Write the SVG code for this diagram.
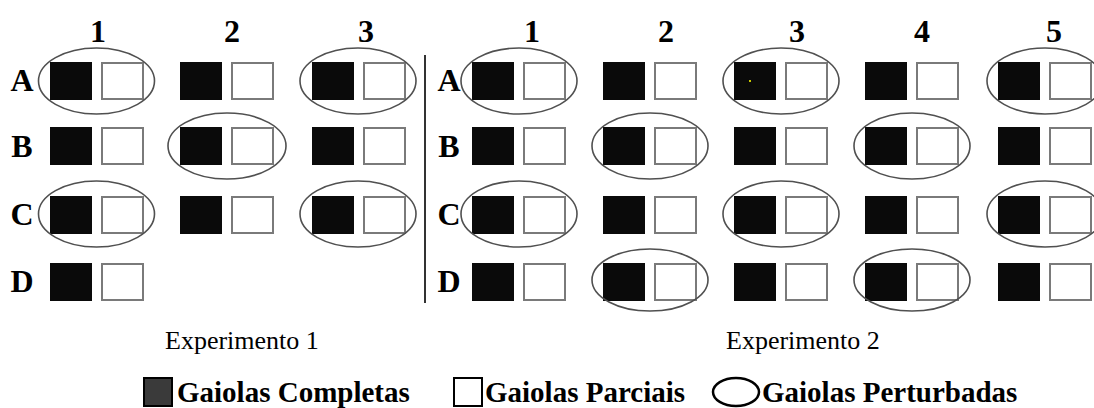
<svg xmlns="http://www.w3.org/2000/svg" width="1094" height="408" viewBox="0 0 1094 408">
<style>
.lbl{font-family:"Liberation Serif","Times New Roman",serif;font-weight:bold;font-size:32px;fill:#000;text-anchor:middle}
.cap{font-family:"Liberation Serif","Times New Roman",serif;font-size:26px;fill:#000}
.leg{font-family:"Liberation Serif","Times New Roman",serif;font-weight:bold;font-size:29px;fill:#000}
.b{fill:#0a0a0a}
.w{fill:#fff;stroke:#7a7a7a;stroke-width:2}
.e{fill:none;stroke:#505050;stroke-width:1.6}
</style>
<defs>
<g id="pair">
<rect class="b" x="0" y="0" width="42" height="38"/>
<rect class="w" x="52" y="1" width="41" height="36"/>
</g>
</defs>
<rect width="1094" height="408" fill="#fff"/>

<g id="headers">
<text class="lbl" x="98" y="42">1</text>
<text class="lbl" x="232" y="42">2</text>
<text class="lbl" x="366" y="42">3</text>
<text class="lbl" x="532" y="42">1</text>
<text class="lbl" x="666" y="42">2</text>
<text class="lbl" x="797" y="42">3</text>
<text class="lbl" x="922" y="42">4</text>
<text class="lbl" x="1054" y="42">5</text>
<text class="lbl" x="22" y="91">A</text>
<text class="lbl" x="22" y="157">B</text>
<text class="lbl" x="22" y="225">C</text>
<text class="lbl" x="22" y="292">D</text>
<text class="lbl" x="449" y="91">A</text>
<text class="lbl" x="449" y="157">B</text>
<text class="lbl" x="449" y="225">C</text>
<text class="lbl" x="449" y="292">D</text>
</g>

<g id="exp1">
<use href="#pair" x="50" y="62"/><use href="#pair" x="180" y="62"/><use href="#pair" x="312" y="62"/>
<use href="#pair" x="50" y="127"/><use href="#pair" x="180" y="127"/><use href="#pair" x="312" y="127"/>
<use href="#pair" x="50" y="196"/><use href="#pair" x="180" y="196"/><use href="#pair" x="312" y="196"/>
<use href="#pair" x="50" y="263"/>
<ellipse class="e" cx="96.5" cy="81" rx="58" ry="33"/>
<ellipse class="e" cx="358" cy="81" rx="58" ry="33"/>
<ellipse class="e" cx="227" cy="146" rx="59" ry="33"/>
<ellipse class="e" cx="96.5" cy="214" rx="58" ry="33"/>
<ellipse class="e" cx="358" cy="214" rx="58" ry="33"/>
</g>

<g id="separator">
<line x1="425" y1="55" x2="425" y2="303" stroke="#333" stroke-width="2"/>
</g>

<g id="exp2">
<use href="#pair" x="472" y="62"/><use href="#pair" x="603" y="62"/><use href="#pair" x="734" y="62"/><use href="#pair" x="865" y="62"/><use href="#pair" x="998" y="62"/>
<use href="#pair" x="472" y="127"/><use href="#pair" x="603" y="127"/><use href="#pair" x="734" y="127"/><use href="#pair" x="865" y="127"/><use href="#pair" x="998" y="127"/>
<use href="#pair" x="472" y="196"/><use href="#pair" x="603" y="196"/><use href="#pair" x="734" y="196"/><use href="#pair" x="865" y="196"/><use href="#pair" x="998" y="196"/>
<use href="#pair" x="472" y="263"/><use href="#pair" x="603" y="263"/><use href="#pair" x="734" y="263"/><use href="#pair" x="865" y="263"/><use href="#pair" x="998" y="263"/>
<rect x="749" y="80" width="2" height="2" fill="#c8c800"/>
<ellipse class="e" cx="519" cy="81" rx="58" ry="33"/>
<ellipse class="e" cx="781" cy="81" rx="58" ry="33"/>
<ellipse class="e" cx="1045" cy="81" rx="58" ry="33"/>
<ellipse class="e" cx="650" cy="146" rx="58" ry="33"/>
<ellipse class="e" cx="912" cy="146" rx="58" ry="33"/>
<ellipse class="e" cx="519" cy="214" rx="58" ry="33"/>
<ellipse class="e" cx="781" cy="214" rx="58" ry="33"/>
<ellipse class="e" cx="1045" cy="214" rx="58" ry="33"/>
<ellipse class="e" cx="650" cy="280" rx="58" ry="31"/>
<ellipse class="e" cx="912" cy="280" rx="58" ry="31"/>
</g>

<g id="captions">
<text class="cap" x="165" y="349">Experimento 1</text>
<text class="cap" x="726" y="349">Experimento 2</text>
</g>

<g id="legend">
<rect x="144" y="378" width="28" height="28" fill="#3a3a3a" stroke="#000" stroke-width="2"/>
<text class="leg" x="177" y="402">Gaiolas Completas</text>
<rect x="454" y="378" width="28" height="28" fill="#fff" stroke="#000" stroke-width="2"/>
<text class="leg" x="485" y="402">Gaiolas Parciais</text>
<ellipse cx="736" cy="392" rx="23" ry="14" fill="none" stroke="#000" stroke-width="2.5"/>
<text class="leg" x="762" y="402">Gaiolas Perturbadas</text>
</g>
</svg>
